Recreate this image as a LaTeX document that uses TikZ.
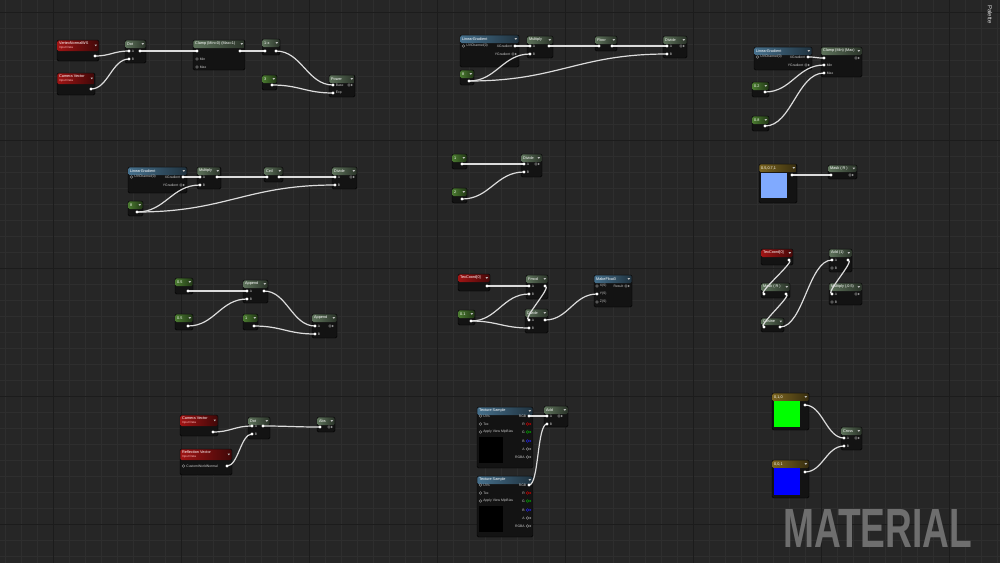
\documentclass[tikz,border=0pt]{standalone}
\usepackage{fontspec}
\usepackage{graphicx}
\setmainfont{Liberation Sans}
\usetikzlibrary{calc}
\definecolor{bgc}{HTML}{262626}
\definecolor{gmin}{HTML}{2E2E2E}
\definecolor{gmaj}{HTML}{1C1C1C}
\definecolor{nodebg}{HTML}{131313}
\definecolor{hfunc}{HTML}{5E735B}
\definecolor{hconst}{HTML}{4A7A30}
\definecolor{hinput}{HTML}{A01414}
\definecolor{hblue}{HTML}{46708C}
\definecolor{hgold}{HTML}{7A6420}
\definecolor{wirec}{HTML}{DCDCDC}
\definecolor{matc}{HTML}{6E6E6E}
\definecolor{swblue}{HTML}{80AAFF}
\pgfdeclarelayer{bg}\pgfdeclarelayer{front}\pgfsetlayers{bg,main,front}
\tikzset{
 wire/.style={draw=wirec, line width=1.2pt},
 nbody/.style={fill=nodebg, draw=black, line width=0.4pt, rounded corners=1.5pt, inner sep=0pt, outer sep=0pt, anchor=north west},
 ntitle/.style={anchor=west, inner sep=0pt, text=white, font=\fontsize{3.8}{4}\selectfont},
 nsub/.style={anchor=west, inner sep=0pt, text=red!25!white, font=\fontsize{3}{3.5}\selectfont},
 plabel/.style={inner sep=0pt, text=white!80!black, font=\fontsize{3.4}{4}\selectfont},
 pinf/.style={circle, fill=white, inner sep=0pt, minimum size=3.2pt},
 pinh/.style={circle, draw=gray!80, fill=nodebg, line width=0.45pt, inner sep=0pt, minimum size=2.8pt},
 tri/.style={fill=white!75!black}
}
\newcounter{lbn}
\newcommand\lab[3][west]{\stepcounter{lbn}\begin{pgfonlayer}{front}\node[plabel, anchor=#1] (lb\arabic{lbn}) at (#2) {#3};\end{pgfonlayer}}
\newcommand\pin[3][pinf]{\begin{pgfonlayer}{front}\node[#1] (#2) at (#3) {};\end{pgfonlayer}}
\newcommand\ipin[4][pinf]{\pin[#1]{#2}{#3}\lab{[xshift=2.6pt]#2.center}{#4}}
\newcommand\opin[4][pinf]{\pin[#1]{#2}{#3}\lab[east]{[xshift=-2.6pt]#2.center}{#4}}
\newcommand\pout[3][gray!80]{\begin{pgfonlayer}{front}\node[pinh, draw=#1] (#2) at (#3) {};\fill[#1] ([shift={(2.2pt,1.1pt)}]#2.center) -- ++(1.6pt,-1.1pt) -- ++(-1.6pt,-1.1pt) -- cycle;\end{pgfonlayer}}
\newcommand\poutl[4][gray!80]{\pout[#1]{#2}{#3}\lab[east]{[xshift=-2.6pt]#2.center}{#4}}
\newcommand\mnode[8]{%
 \node[nbody, minimum width=#4pt, minimum height=#5pt] (#1) at (#2,#3) {};
 \shade[left color=#6, right color=#6!45!black, rounded corners=1.2pt] ([shift={(0.4pt,-0.4pt)}]#1.north west) rectangle ([shift={(-0.4pt,-#7pt)}]#1.north east);
 \node[ntitle] (#1-t) at ([shift={(2pt,{-0.5*#7pt})}]#1.north west) {#8};
 \fill[tri] ([shift={(-4.5pt,{-0.5*#7pt+0.9pt})}]#1.north east) -- ++(2.6pt,0) -- ++(-1.3pt,-1.8pt) -- cycle;
}
\newcommand\inode[6]{%
 \node[nbody, minimum width=#4pt, minimum height=#5pt] (#1) at (#2,#3) {};
 \shade[left color=hinput, right color=hinput!40!black, rounded corners=1.2pt] ([shift={(0.4pt,-0.4pt)}]#1.north west) rectangle ([shift={(-0.4pt,-11pt)}]#1.north east);
 \node[ntitle] (#1-t) at ([shift={(2pt,-3.2pt)}]#1.north west) {#6};
 \node[nsub] (#1-s) at ([shift={(2pt,-8pt)}]#1.north west) {Input Data};
 \fill[tri] ([shift={(-4.5pt,-4.5pt)}]#1.north east) -- ++(2.6pt,0) -- ++(-1.3pt,-1.8pt) -- cycle;
}
\newcommand\texs[3]{%
 \mnode{#1}{#2}{#3}{56}{61}{hblue}{8}{Texture Sample}
 \ipin[pinh]{#1-uv}{#2+3.5,#3+9}{UVs}
 \ipin[pinh]{#1-tex}{#2+3.5,#3+17}{Tex}
 \ipin[pinh]{#1-mip}{#2+3.5,#3+25}{Apply View MipBias}
 \opin{#1-rgb}{#2+52,#3+9}{RGB}
 \poutl[red!85!black]{#1-r}{#2+50.5,#3+17}{R}
 \poutl[green!70!black]{#1-g}{#2+50.5,#3+25}{G}
 \poutl[blue!85!white]{#1-b}{#2+50.5,#3+34}{B}
 \poutl{#1-al}{#2+50.5,#3+42}{A}
 \poutl{#1-rgba}{#2+50.5,#3+50}{RGBA}
 \fill[black] (#2+1.5,#3+30) rectangle (#2+26,#3+56);
}
\newcommand\wire[2]{\draw[wire] let \p1=(#1.center), \p2=(#2.center), \n1={max(abs(\x2-\x1)*0.45,10pt)} in (\p1) .. controls +(\n1,0) and +(-\n1,0) .. (\p2);}
\newcommand\wireb[3]{\draw[wire] (#2.center) .. controls +(#1pt,0) and +(-#1pt,0) .. (#3.center);}
\begin{document}
\begin{tikzpicture}[x=1pt,y=-1pt]
\useasboundingbox (0,0) rectangle (1000,563);
\begin{pgfonlayer}{bg}
\fill[bgc] (0,0) rectangle (1000,563);
\foreach \x in {5,21,...,997} \draw[gmin, line width=0.5pt] (\x,0) -- (\x,563);
\foreach \y in {12,28,...,562} \draw[gmin, line width=0.5pt] (0,\y) -- (1000,\y);
\foreach \x in {53,181,...,949} \draw[gmaj, line width=0.8pt] (\x,0) -- (\x,563);
\foreach \y in {12,140,...,524} \draw[gmaj, line width=0.8pt] (0,\y) -- (1000,\y);
\end{pgfonlayer}

% ---------- group 1
\inode{vnws}{57}{40}{42}{21}{VertexNormalWS}
\pin{vnws-o}{95,56}
\inode{camv}{57}{73}{38}{22}{Camera Vector}
\pin{camv-o}{91,89}
\mnode{dot1}{125}{40}{21}{23}{hfunc}{8}{Dot}
\ipin{dot1-a}{129,51}{A}\ipin{dot1-b}{129,59}{B}\pin{dot1-o}{140,51}
\mnode{clamp1}{193}{40}{52}{30}{hfunc}{8}{Clamp (Min=0) (Max=1)}
\pin{clamp1-i}{197,51}\pin{clamp1-o}{240,51}
\ipin[pinh]{clamp1-min}{197,59}{Min}\ipin[pinh]{clamp1-max}{197,67}{Max}
\mnode{omx}{262}{39}{18}{16}{hfunc}{8}{1-x}
\pin{omx-i}{265,51}\pin{omx-o}{276,51}
\mnode{k1}{262}{75}{15}{15}{hconst}{8}{3}
\pin{k1-o}{272,85}
\mnode{pow}{329}{75}{26}{22}{hfunc}{8}{Power}
\ipin{pow-b}{333,85}{Base}\ipin{pow-e}{333,93}{Exp}\pout{pow-o}{349,85}

% ---------- group 2
\mnode{lg1}{460}{35}{59}{32}{hblue}{8}{LinearGradient}
\ipin[pinh]{lg1-uv}{463.5,46}{UVChannel(0)}\opin{lg1-x}{515,46}{XGradient}\poutl{lg1-y}{513,54}{YGradient}
\mnode{mul1}{527}{36}{26}{22}{hfunc}{8}{Multiply}
\ipin{mul1-a}{530,46}{A}\ipin{mul1-b}{530,54}{B}\pin{mul1-o}{549,46}
\mnode{floor1}{595}{36}{22}{15}{hfunc}{8}{Floor}
\pin{floor1-i}{599,46}\pin{floor1-o}{612,46}
\mnode{div1}{663}{36}{24}{22}{hfunc}{8}{Divide}
\ipin{div1-a}{667,46}{A}\ipin{div1-b}{667,54}{B}\pout{div1-o}{681,46}
\mnode{k2}{460}{70}{14}{15}{hconst}{8}{8}
\pin{k2-o}{469,81}

% ---------- group 3
\mnode{lg2}{754}{47}{58}{23}{hblue}{8}{LinearGradient}
\ipin[pinh]{lg2-uv}{757.5,57}{UVChannel(0)}\opin{lg2-x}{808,57}{XGradient}\poutl{lg2-y}{806,65}{YGradient}
\mnode{clamp2}{821}{47}{41}{30}{hfunc}{8}{Clamp (Min) (Max)}
\pin{clamp2-i}{824,58}\pout{clamp2-o}{856,58}
\ipin{clamp2-min}{824,65}{Min}\ipin{clamp2-max}{824,73}{Max}
\mnode{k3}{752}{82}{17}{15}{hconst}{8}{0.2}
\pin{k3-o}{765,92}
\mnode{k4}{752}{116}{17}{15}{hconst}{8}{0.8}
\pin{k4-o}{765,126}

% ---------- group 4
\mnode{lg3}{128}{167}{59}{26}{hblue}{8}{LinearGradient}
\ipin[pinh]{lg3-uv}{131.5,177}{UVChannel(0)}\opin{lg3-x}{183,177}{XGradient}\poutl{lg3-y}{181,185}{YGradient}
\mnode{mul2}{197}{167}{24}{22}{hfunc}{8}{Multiply}
\ipin{mul2-a}{200,177}{A}\ipin{mul2-b}{200,185}{B}\pin{mul2-o}{217,177}
\mnode{ceil1}{264}{167}{19}{15}{hfunc}{8}{Ceil}
\pin{ceil1-i}{267,177}\pin{ceil1-o}{279,177}
\mnode{div2}{332}{167}{25}{22}{hfunc}{8}{Divide}
\ipin{div2-a}{335,177}{A}\ipin{div2-b}{335,185}{B}\pout{div2-o}{351,177}
\mnode{k5}{128}{201}{15}{15}{hconst}{8}{8}
\pin{k5-o}{137,212}

% ---------- group 5
\mnode{k6}{452}{154}{15}{15}{hconst}{8}{1}
\pin{k6-o}{462,164}
\mnode{k7}{452}{188}{15}{15}{hconst}{8}{2}
\pin{k7-o}{462,199}
\mnode{div3}{521}{154}{21}{23}{hfunc}{8}{Divide}
\ipin{div3-a}{524,164}{A}\ipin{div3-b}{524,172}{B}\pout{div3-o}{536,164}

% ---------- group 6
\mnode{vp1}{759}{164}{38}{39}{hgold}{8}{0.5,0.7,1}
\fill[swblue] (760.5,173) rectangle (787,198);
\pin{vp1-o}{792,175}
\mnode{mask1}{828}{165}{29}{14}{hfunc}{7}{Mask ( R )}
\pin{mask1-i}{831,175}\pout{mask1-o}{850,175}

% ---------- group 7
\mnode{k8}{175}{278}{18}{16}{hconst}{8}{0.5}
\pin{k8-o}{188,291}
\mnode{k9}{175}{314}{18}{16}{hconst}{8}{0.5}
\pin{k9-o}{188,326}
\mnode{app1}{243}{280}{25}{23}{hfunc}{8}{Append}
\ipin{app1-a}{247,291}{A}\ipin{app1-b}{247,299}{B}\pin{app1-o}{264,291}
\mnode{k10}{243}{314}{15}{16}{hconst}{8}{1}
\pin{k10-o}{254,326}
\mnode{app2}{312}{314}{25}{24}{hfunc}{8}{Append}
\ipin{app2-a}{315,326}{A}\ipin{app2-b}{315,334}{B}\pout{app2-o}{330,326}

% ---------- group 8
\mnode{tc1}{458}{274}{32}{17}{hinput}{8}{TexCoord[0]}
\pin{tc1-o}{487,286}
\mnode{fmod}{526}{275}{22}{24}{hfunc}{8}{Fmod}
\ipin{fmod-a}{529,286}{A}\ipin{fmod-b}{529,294}{B}\pin{fmod-o}{545,286}
\mnode{div4}{525}{309}{23}{24}{hfunc}{8}{Divide}
\ipin{div4-a}{529,320}{A}\ipin{div4-b}{529,328}{B}\pin{div4-o}{545,320}
\mnode{mf3}{594}{275}{38}{32}{hblue}{8}{MakeFloat3}
\ipin[pinh]{mf3-x}{597,286}{X(S)}\poutl{mf3-o}{626,286}{Result}
\ipin{mf3-y}{597,294}{Y(S)}\ipin[pinh]{mf3-z}{597,302}{Z(S)}
\mnode{k11}{458}{310}{17}{15}{hconst}{8}{0.1}
\pin{k11-o}{471,321}

% ---------- group 9
\mnode{tc2}{761}{249}{32}{16}{hinput}{8}{TexCoord[0]}
\pin{tc2-o}{789,260}
\mnode{mask2}{761}{283}{29}{15}{hfunc}{8}{Mask ( R )}
\pin{mask2-i}{764,294}\pin{mask2-o}{786,294}
\mnode{cos1}{761}{318}{23}{14}{hfunc}{7}{Cosine}
\pin{cos1-i}{764,327}\pin{cos1-o}{780,327}
\mnode{add1}{829}{249}{23}{23}{hfunc}{8}{Add (1)}
\ipin{add1-a}{832,260}{A}\ipin[pinh]{add1-b}{832,268}{B}\pin{add1-o}{848,260}
\mnode{mul3}{829}{283}{33}{22}{hfunc}{8}{Multiply (,0.5)}
\ipin{mul3-a}{832,294}{A}\ipin[pinh]{mul3-b}{832,302}{B}\pout{mul3-o}{856,294}

% ---------- group 10
\inode{camv2}{180}{415}{38}{21}{Camera Vector}
\pin{camv2-o}{213,432}
\inode{refl}{180}{449}{52}{26}{Reflection Vector}
\ipin[pinh]{refl-n}{183.5,466}{CustomWorldNormal}\pin{refl-o}{227,466}
\mnode{dot2}{248}{417}{22}{22}{hfunc}{8}{Dot}
\ipin{dot2-a}{252,426}{A}\ipin{dot2-b}{252,434}{B}\pin{dot2-o}{263,426}
\mnode{abs1}{317}{417}{18}{15}{hfunc}{8}{Abs}
\pin{abs1-i}{320,427}\pout{abs1-o}{329,427}

% ---------- group 11
\texs{ts1}{477}{407}
\texs{ts2}{477}{476}
\mnode{add2}{544}{406}{24}{21}{hfunc}{8}{Add}
\ipin{add2-a}{547,416}{A}\ipin{add2-b}{547,424}{B}\pout{add2-o}{559,416}

% ---------- group 12
\mnode{vg}{772}{393}{37}{37}{hgold}{8}{0,1,0}
\fill[green] (773.5,401) rectangle (800,427);
\pin{vg-o}{805,405}
\mnode{vb}{772}{460}{37}{38}{hgold}{8}{0,0,1}
\fill[blue] (773.5,468) rectangle (800,495);
\pin{vb-o}{805,472}
\mnode{cross}{841}{427}{21}{23}{hfunc}{8}{Cross}
\ipin{cross-a}{844,438}{A}\ipin{cross-b}{844,446}{B}\pout{cross-o}{856,438}

% ---------- wires
\wire{vnws-o}{dot1-a}
\wire{camv-o}{dot1-b}
\wire{dot1-o}{clamp1-i}
\wire{clamp1-o}{omx-i}
\wire{omx-o}{pow-b}
\wire{k1-o}{pow-e}
\wire{lg1-x}{mul1-a}
\wire{k2-o}{mul1-b}
\wire{mul1-o}{floor1-i}
\wire{floor1-o}{div1-a}
\wire{k2-o}{div1-b}
\wire{lg2-x}{clamp2-i}
\wire{k3-o}{clamp2-min}
\wire{k4-o}{clamp2-max}
\wire{lg3-x}{mul2-a}
\wire{k5-o}{mul2-b}
\wire{mul2-o}{ceil1-i}
\wire{ceil1-o}{div2-a}
\wire{k5-o}{div2-b}
\wire{k6-o}{div3-a}
\wire{k7-o}{div3-b}
\wire{vp1-o}{mask1-i}
\wire{k8-o}{app1-a}
\wire{k9-o}{app1-b}
\wire{app1-o}{app2-a}
\wire{k10-o}{app2-b}
\wire{tc1-o}{fmod-a}
\wire{k11-o}{fmod-b}
\wire{k11-o}{div4-b}
\wireb{8}{fmod-o}{div4-a}
\wire{div4-o}{mf3-y}
\wireb{8}{tc2-o}{mask2-i}
\wireb{8}{mask2-o}{cos1-i}
\wire{cos1-o}{add1-a}
\wireb{8}{add1-o}{mul3-a}
\wire{camv2-o}{dot2-a}
\wire{refl-o}{dot2-b}
\wire{dot2-o}{abs1-i}
\wire{ts1-rgb}{add2-a}
\wire{ts2-rgb}{add2-b}
\wire{vg-o}{cross-a}
\wire{vb-o}{cross-b}

% ---------- extras
\node[anchor=south west, inner sep=0pt, text=matc] (mat) at (783,548) {\resizebox{189pt}{38pt}{\bfseries MATERIAL}};
\node[rotate=-90, anchor=west, inner sep=0pt, text=white!85!black, font=\fontsize{6}{6}\selectfont] (pal) at (990,5) {Palette};
\end{tikzpicture}
\end{document}
